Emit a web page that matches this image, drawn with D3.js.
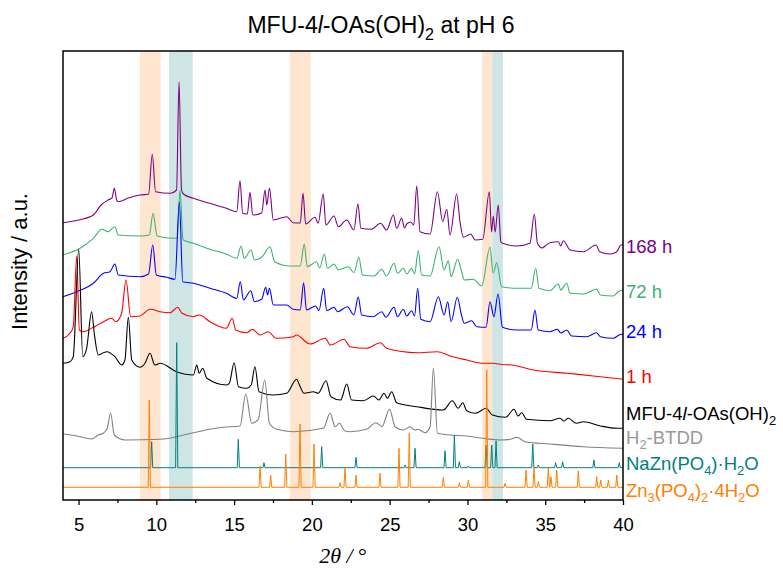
<!DOCTYPE html>
<html>
<head>
<meta charset="utf-8">
<script src="https://cdn.jsdelivr.net/npm/d3@7"></script>
<style>
  body { margin: 0; background: #fff; }
  svg { display: block; font-family: "Liberation Sans", Arial, sans-serif; }
</style>
</head>
<body>
<div id="chart"></div>
<script>
// 2theta axis
const xDomain = [4, 40];
const majorTicks = [5, 10, 15, 20, 25, 30, 35, 40];
const minorTicks = [7.5, 12.5, 17.5, 22.5, 27.5, 32.5, 37.5];

// highlighted regions [from, to] in 2theta
const orangeBands = [[8.95, 10.28], [18.6, 19.93], [30.95, 31.6]];
const tealBands = [[10.82, 12.34], [31.6, 32.28]];

// measured patterns, [2theta, intensity a.u.] (stacked)
const pat168h = [[4.0,277.3],[5.0,280],[5.95,285],[6.45,295],[6.9,300],[7.15,302],[7.3,311.7],[7.45,300],[7.55,298.3],[8.2,302],
  [8.95,305],[9.5,305.7],[9.74,345.7],[9.95,308.3],[10.9,306.7],[11.3,310],[11.46,418.3],[11.62,310],[11.74,306],[12.38,301.7],
  [13.45,296.7],[14.5,291.7],[15.17,288.3],[15.38,319.3],[15.55,286.7],[15.85,286],[16.02,307.7],[16.2,285],[16.77,287],[16.99,310],
  [17.1,295],[17.27,311.7],[17.52,280],[18.38,283.3],[18.8,277.3],[19.25,277],[19.43,306.7],[19.6,276],[20.2,282.7],[20.4,276.7],
  [20.73,306],[20.9,275],[21.42,284],[21.7,273.3],[22.24,280],[22.7,270],[22.96,296],[23.15,271.7],[23.8,270.7],[24.42,276.7],
  [24.8,270],[25.24,285],[25.45,271.7],[25.77,281.7],[25.95,272],[26.1,276],[26.35,278],[26.55,275],[26.74,314],[26.95,268.3],
  [27.6,266],[28.07,308.3],[28.41,278.3],[28.67,290.7],[28.88,265],[29.31,306],[29.52,278.3],[29.75,262.7],[30.2,266],[30.5,260],
  [30.98,260.7],[31.41,308.3],[31.55,268],[31.66,284],[31.78,268],[31.98,295],[32.15,258],[32.27,256.7],[33.17,254],[34.02,256.7],
  [34.3,286],[34.5,256.7],[34.8,252],[35.0,254],[35.3,257.3],[35.84,258.3],[36.0,254],[36.16,259.3],[36.6,250],[37.45,248.3],
  [38.27,255],[38.5,248.3],[39.17,246],[39.6,248.3],[39.86,255],[40.0,255]];

const pat72h = [[4.0,245],[5.1,251.7],[5.95,261.7],[6.5,270.7],[6.9,268.3],[7.34,273.3],[7.55,265],[8.95,264],[9.55,265],[9.79,286.7],
  [10.05,264],[11.1,261.7],[11.35,262],[11.52,310],[11.7,262],[11.74,260],[12.38,256.7],[13.45,250.7],[14.5,246],[15.17,241.7],
  [15.45,254],[15.65,241.7],[16.09,250],[16.3,240],[16.77,242.7],[17.31,253.3],[17.6,238.3],[18.6,234],[19.25,234],[19.51,256],
  [19.7,233.3],[20.3,238.3],[20.5,232],[20.8,246],[21.0,231.7],[21.42,236],[21.7,230],[22.35,233.3],[22.7,227.3],[23.02,242.7],
  [23.25,225],[24.0,224],[24.49,230.7],[24.8,224],[25.28,236.7],[25.5,226.7],[25.88,231.7],[26.1,226],[26.41,231.7],[26.6,226],
  [26.84,249.3],[27.05,225],[27.6,224],[28.17,253.3],[28.5,230],[28.77,239.3],[28.95,223.3],[29.37,240.7],[29.6,230],[29.8,220],
  [30.38,220.7],[30.92,214],[31.45,253],[31.65,226.7],[31.88,237.3],[32.2,213.3],[33.17,211.7],[34.1,211.7],[34.39,231.7],[34.6,211.7],
  [35.3,209.3],[35.84,216],[36.0,210],[36.38,216.7],[36.6,206.7],[37.45,206],[38.3,210.7],[38.55,205],[39.38,204],[39.7,208.3],[40.0,210]];

const pat24h = [[4.0,203.3],[4.88,208.3],[5.95,216.7],[6.6,226.7],[7.02,228.3],[7.34,236],[7.55,225],[8.95,223.3],[9.5,226],[9.77,255],
  [10.0,225],[10.67,222.7],[11.2,220.7],[11.48,298],[11.7,218.3],[12.38,216.7],[13.45,211.7],[14.5,206.7],[15.17,201.7],[15.4,218.3],
  [15.6,200],[16.07,209.3],[16.3,198.3],[16.77,200.7],[17.03,212.7],[17.15,205],[17.27,211.7],[17.52,195],[18.38,195],[18.8,190.7],
  [19.25,190],[19.47,217.3],[19.65,190],[20.24,194],[20.45,189.3],[20.76,211.7],[20.95,189.3],[21.42,192.7],[21.65,188.3],[22.28,193.3],
  [22.7,185],[22.98,203],[23.2,185],[23.95,183.3],[24.49,188.3],[24.75,182.7],[25.28,192.7],[25.5,183.3],[25.88,190.7],[26.1,184],
  [26.41,189.3],[26.6,184],[26.8,211.7],[27.0,180.7],[27.6,178.3],[28.13,203.3],[28.5,185],[28.73,198.3],[28.95,178.3],[29.35,202.7],
  [29.6,186],[29.8,176.7],[30.27,179.3],[30.6,173.3],[31.2,172.7],[31.45,198.3],[31.7,183.3],[31.97,206],[32.25,172.7],[33.17,170],
  [34.1,170],[34.34,190],[34.55,170],[35.3,168.3],[35.78,170.7],[36.0,167],[36.38,170],[36.7,164],[37.66,163.3],[38.3,167.3],
  [38.55,163.3],[39.38,161.7],[39.75,165],[40.0,166]];

const pat1h = [[4.0,161.7],[4.45,166.7],[4.66,173.3],[4.88,244],[5.05,170],[5.3,168.3],[5.95,172.7],[6.6,178.3],[7.13,181.7],[7.4,178.3],
  [7.77,186.7],[8.05,220],[8.35,183.3],[8.95,184],[9.59,190.7],[10.24,188.3],[10.88,187.3],[11.37,192.7],[11.65,186.7],[12.38,183.3],
  [12.76,185],[13.45,178.3],[14.5,171.7],[14.88,181.7],[15.1,170],[15.81,167.3],[16.17,170.7],[16.67,165],[17.2,168.3],[17.7,161.7],
  [18.8,163.3],[19.0,165],[19.88,156],[20.85,161.7],[21.2,155],[22.07,160.7],[22.45,153.3],[23.5,151.7],[24.42,157.3],[24.8,151.7],
  [26.74,147.3],[28.07,148.3],[28.88,144],[29.95,140],[31.0,136.7],[31.66,136.7],[32.2,135.5],[32.85,135],[34.25,130],[36.4,126.7],
  [38.55,123.3],[40.0,120.7]];

const patMFU = [[4.0,136.7],[4.45,138.3],[4.66,143.3],[5.01,250.7],[5.27,143.3],[5.52,151.7],[5.84,188.3],[6.01,166.7],[6.27,145],[6.59,147.3],
  [6.81,148.3],[7.34,143.3],[7.77,135],[7.98,140],[8.2,182.7],[8.42,140],[8.95,132.7],[9.27,136.7],[9.59,146.7],[9.9,135],
  [10.24,136.7],[11.3,128.3],[12.38,125],[12.6,135],[12.75,126.7],[12.98,131.7],[13.25,121.7],[14.5,115],[14.7,117],[15.0,137.3],
  [15.28,113.3],[15.81,111.7],[16.1,115],[16.34,133.3],[16.6,108.3],[17.52,105],[18.38,106.7],[19.02,120.7],[19.2,115],[19.5,106.7],
  [20.1,108.3],[20.4,106.7],[20.91,119.3],[21.22,103.3],[21.85,100],[22.24,116],[22.55,100],[23.3,99.3],[23.96,104],[24.3,100],
  [24.64,106.7],[24.85,101.7],[25.13,108.3],[25.45,97.3],[26.74,93.3],[28.45,90],[29.03,99.3],[29.4,91.7],[29.7,97.3],[29.95,89.3],
  [30.52,86.7],[31.2,91.7],[31.6,85],[32.45,82.7],[33.0,90.7],[33.25,84],[33.49,87.3],[33.8,80.7],[35.3,79.3],[35.95,81.7],
  [36.2,79],[36.49,81.7],[37.0,76.7],[37.45,78.3],[38.55,74],[39.6,71.7],[40.0,71.7]];

const patBTDD = [[4.0,66],[4.88,64],[5.84,61],[6.27,65],[6.59,66.7],[6.85,72],[7.06,86.7],[7.3,65],[8.0,60],[10.24,60.7],
  [12.38,67.3],[13.45,70.7],[14.3,72.7],[15.38,74],[15.75,106],[16.13,76.7],[16.55,80.7],[16.97,120],[17.27,76.7],[17.75,70.7],
  [18.8,68.3],[20.74,71.7],[21.17,86.7],[21.5,73.3],[21.77,76.7],[22.1,69.3],[22.45,68.3],[23.5,70.7],[24.12,77.3],[24.5,73.3],
  [24.99,90.7],[25.35,73.3],[25.88,70],[26.31,73.3],[26.6,70],[26.84,70.7],[27.27,67.3],[27.6,73.3],[27.81,132],[28.07,66.7],
  [28.88,65],[29.95,64],[31.0,61.7],[32.1,60],[32.75,60.7],[33.17,62.7],[33.7,58.3],[35.3,56],[37.45,53.3],[40.0,51.7]];

// simulated patterns: baseline level and [2theta, peak top]
const baseNaZn = 32.3;
const peaksNaZn = [[9.7,58.3],[11.31,157.3],[15.27,60.7],[16.92,37.3],[20.63,53.3],[22.84,42.7],[26.0,35],[26.63,51.7],[28.56,49.3],
  [29.16,65],[29.48,38.3],[30.06,34],[31.2,55],[31.56,55],[31.84,59],[34.2,56],[34.56,35],[35.67,37.3],[36.12,38.3],[38.13,40],[39.76,37.3]];
const baseZn3 = 12.7;
const peaksZn3 = [[9.55,100],[16.67,34],[17.35,25],[18.32,46],[19.24,76],[20.14,56],[21.81,17.3],[22.13,31.7],[22.84,25],[24.38,26.7],
  [25.6,51.7],[26.26,66.7],[28.45,22.7],[29.48,17.3],[30.06,20],[31.24,130],[32.42,16.7],[33.77,30],[34.28,32.7],[34.56,18.3],
  [35.2,32.7],[35.37,23.3],[35.74,30],[37.13,29.3],[38.31,23.3],[38.57,20],[39.06,20],[39.6,25]];

// trace labels: [text, kind] kind: "" normal, "i" italic, "s" subscript
const labels = [
  [["168 h", ""]],
  [["72 h", ""]],
  [["24 h", ""]],
  [["1 h", ""]],
  [["MFU-4", ""], ["l", "i"], ["-OAs(OH)", ""], ["2", "s"]],
  [["H", ""], ["2", "s"], ["-BTDD", ""]],
  [["NaZn(PO", ""], ["4", "s"], [")\u00b7H", ""], ["2", "s"], ["O", ""]],
  [["Zn", ""], ["3", "s"], ["(PO", ""], ["4", "s"], [")", ""], ["2", "s"], ["\u00b74H", ""], ["2", "s"], ["O", ""]]
];
const labelLevels = [253.3, 208.3, 168.3, 124, 86.7, 62.7, 36.7, 10];
const colors = ["#800080", "#3cb371", "#0000ff", "#ff0000", "#000000", "#808080", "#008080", "#ff8000"];
const labelColors = ["#800080", "#3cb371", "#0000ff", "#ff0000", "#000000", "#999999", "#008080", "#ff8000"];

const margin = {top: 51, right: 160, bottom: 71, left: 63};
const width = 783 - margin.left - margin.right;
const height = 571 - margin.top - margin.bottom;

const svg = d3.select("#chart").append("svg")
    .attr("width", 783)
    .attr("height", 571);

const g = svg.append("g")
    .attr("transform", `translate(${margin.left},${margin.top})`);

const x = d3.scaleLinear().domain(xDomain).range([0, width]);
const y = d3.scaleLinear().domain([0, height]).range([height, 0]);

// bands behind everything
g.selectAll(".band-o")
    .data(orangeBands)
    .join("rect")
    .attr("x", d => x(d[0]))
    .attr("width", d => x(d[1]) - x(d[0]))
    .attr("y", 0)
    .attr("height", height)
    .attr("fill", "#fde5cf");

g.selectAll(".band-t")
    .data(tealBands)
    .join("rect")
    .attr("x", d => x(d[0]))
    .attr("width", d => x(d[1]) - x(d[0]))
    .attr("y", 0)
    .attr("height", height)
    .attr("fill", "#cde6e5");

// stick patterns become baseline + narrow peaks
function stickPoints(base, peaks) {
    const pts = [[xDomain[0], base]];
    peaks.forEach(([p, top]) => {
        pts.push([p - 0.07, base], [p, top], [p + 0.07, base]);
    });
    pts.push([xDomain[1], base]);
    return pts;
}

const measured = [pat168h, pat72h, pat24h, pat1h, patMFU, patBTDD];
const smooth = d3.line().x(d => x(d[0])).y(d => y(d[1])).curve(d3.curveMonotoneX);
const straight = d3.line().x(d => x(d[0])).y(d => y(d[1]));

measured.forEach((pts, i) => {
    g.append("path")
        .attr("d", smooth(pts))
        .attr("fill", "none")
        .attr("stroke", colors[i])
        .attr("stroke-width", 1.1);
});

[[baseNaZn, peaksNaZn], [baseZn3, peaksZn3]].forEach(([b, p], i) => {
    g.append("path")
        .attr("d", straight(stickPoints(b, p)))
        .attr("fill", "none")
        .attr("stroke", colors[6 + i])
        .attr("stroke-width", 1);
});

// frame
g.append("rect")
    .attr("width", width)
    .attr("height", height)
    .attr("fill", "none")
    .attr("stroke", "#000")
    .attr("stroke-width", 1.5);

// x axis
const xAxis = g.append("g")
    .attr("transform", `translate(0,${height})`)
    .call(d3.axisBottom(x).tickValues(majorTicks).tickSize(5).tickPadding(13).tickSizeOuter(0));
xAxis.select(".domain").remove();
xAxis.selectAll("line").attr("stroke-width", 1.3);
xAxis.selectAll("text")
    .attr("font-size", 18.5)
    .attr("font-family", "Liberation Sans, Arial, sans-serif")
    .attr("fill", "#000");

const xMinor = g.append("g")
    .attr("transform", `translate(0,${height})`)
    .call(d3.axisBottom(x).tickValues(minorTicks).tickSize(3).tickFormat("").tickSizeOuter(0));
xMinor.select(".domain").remove();
xMinor.selectAll("line").attr("stroke-width", 1.3);

// rich text helper
function rich(sel, parts, size) {
    let shift = 0;
    parts.forEach(([t, k]) => {
        const ts = sel.append("tspan").text(t);
        if (k === "s") {
            ts.attr("font-size", size * 0.7).attr("dy", size * 0.3 - shift);
            shift = size * 0.3;
        } else {
            if (shift) { ts.attr("dy", -shift); shift = 0; }
            if (k === "i") ts.attr("font-style", "italic");
        }
    });
}

// trace labels
labels.forEach((parts, i) => {
    const t = g.append("text")
        .attr("x", width + 3)
        .attr("y", y(labelLevels[i]) + 6.6)
        .attr("font-size", 18.5)
        .attr("fill", labelColors[i]);
    rich(t, parts, 18.5);
});

// title
const title = svg.append("text")
    .attr("x", 381)
    .attr("y", 33)
    .attr("text-anchor", "middle")
    .attr("font-size", 23);
rich(title, [["MFU-4", ""], ["l", "i"], ["-OAs(OH)", ""], ["2", "s"], [" at pH 6", ""]], 23);

// axis titles
svg.append("text")
    .attr("transform", "translate(27,261.5) rotate(-90)")
    .attr("text-anchor", "middle")
    .attr("font-size", 22)
    .text("Intensity / a.u.");

const xl = svg.append("text")
    .attr("x", 343)
    .attr("y", 563)
    .attr("text-anchor", "middle")
    .attr("font-family", "Liberation Serif, Times New Roman, serif")
    .attr("font-size", 22);
xl.append("tspan").attr("font-style", "italic").text("2\u03b8");
xl.append("tspan").attr("font-style", "italic").text(" / ");
xl.append("tspan").text("\u00b0");
</script>
</body>
</html>
